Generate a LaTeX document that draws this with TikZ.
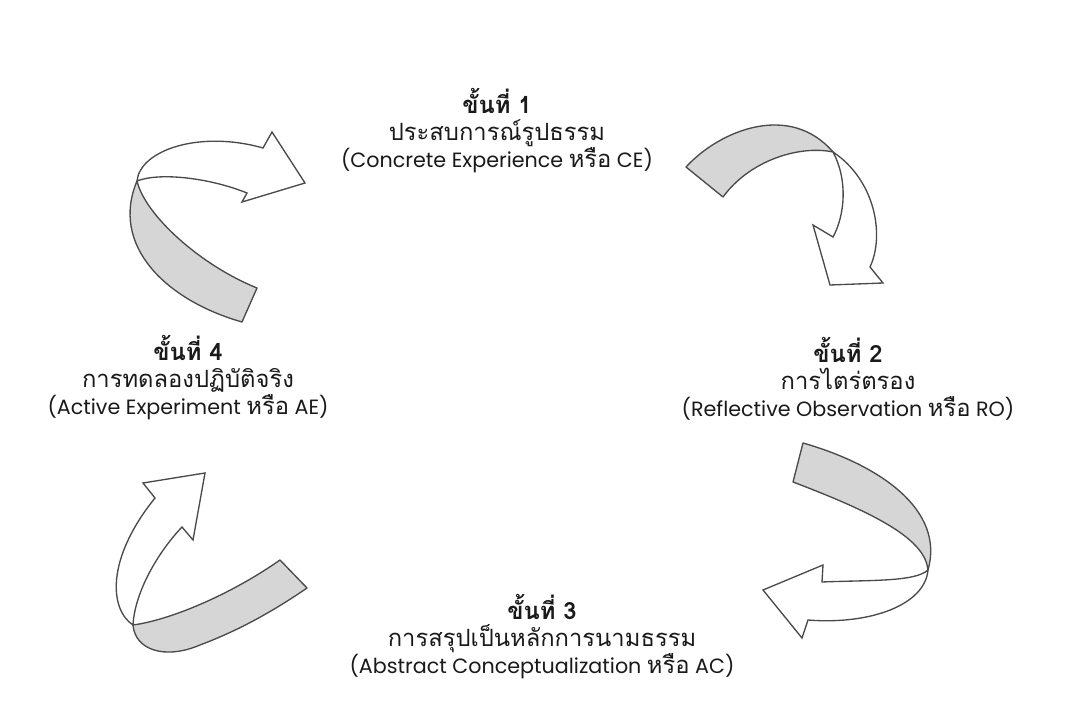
\documentclass[tikz,border=0pt]{standalone}
\usepackage{fontspec}
\setmainfont{Poppins}
\newfontfamily\thai[Script=Thai,Scale=1.15]{Loma}
\definecolor{band}{HTML}{D6D6D6}
\definecolor{edge}{HTML}{4A4A4A}
\definecolor{ink}{HTML}{1A1A1A}
\tikzset{
  bandfill/.style={fill=band,draw=edge,line width=1pt,line join=round},
  arrowfill/.style={fill=white,draw=edge,line width=1pt,line join=miter},
  stage/.style={align=center,text=ink,font=\fontsize{15.5}{20.25}\selectfont},
}
\begin{document}
\begin{tikzpicture}[x=0.75pt,y=-0.75pt]
\useasboundingbox[fill=white] (0,0) rectangle (1068,702);

% ---- arrow top-right (CE -> RO)
\coordinate (t1) at (833,152);
\path[bandfill] (686,167) .. controls (720,130) and (790,102) .. (t1)
  .. controls (800,145) and (750,160) .. (723,197) -- cycle;
\path[arrowfill] (t1) .. controls (848,180) and (845,215) .. (833,237)
  -- (813,225) -- (830,285) -- (883,283) -- (870,267)
  .. controls (885,235) and (875,180) .. (t1) -- cycle;

% ---- arrow bottom-right (RO -> AC)
\coordinate (t2) at (928,570);
\path[bandfill] (803,443) .. controls (880,465) and (945,510) .. (t2)
  .. controls (925,540) and (880,515) .. (793,482) -- cycle;
\path[arrowfill] (t2) .. controls (915,582) and (870,580) .. (822,582)
  -- (823,565) -- (763,590) -- (802,638) -- (808,620)
  .. controls (870,625) and (925,605) .. (t2) -- cycle;

% ---- arrow bottom-left (AC -> AE)
\coordinate (t3) at (133,625);
\path[bandfill] (280,560) .. controls (230,595) and (170,620) .. (t3)
  .. controls (135,650) and (165,660) .. (200,645)
  .. controls (240,630) and (275,610) .. (307,588) -- cycle;
\path[arrowfill] (t3) .. controls (110,610) and (105,560) .. (155,498)
  -- (143,483) -- (205,473) -- (193,540) -- (182,527)
  .. controls (160,550) and (135,590) .. (t3) -- cycle;

% ---- arrow top-left (AE -> CE)
\coordinate (t4) at (137,181);
\path[bandfill] (242,322) .. controls (165,300) and (110,245) .. (t4)
  .. controls (145,215) and (200,265) .. (257,288) -- cycle;
\path[arrowfill] (t4) .. controls (140,150) and (200,130) .. (263,148)
  -- (272,132) -- (305,183) -- (242,202) -- (247,193)
  .. controls (210,178) and (160,172) .. (t4) -- cycle;

% ---- stages
\node[stage] (ce) at (497,131) {{\thai\bfseries ขั้นที่ 1}\\{\thai ประสบการณ์รูปธรรม}\\(Concrete Experience {\thai หรือ} CE)};
\node[stage] (ro) at (848,379) {{\thai\bfseries ขั้นที่ 2}\\{\thai การไตร่ตรอง}\\(Reflective Observation {\thai หรือ} RO)};
\node[stage] (ac) at (542,637) {{\thai\bfseries ขั้นที่ 3}\\{\thai การสรุปเป็นหลักการนามธรรม}\\(Abstract Conceptualization {\thai หรือ} AC)};
\node[stage] (ae) at (188,378) {{\thai\bfseries ขั้นที่ 4}\\{\thai การทดลองปฏิบัติจริง}\\(Active Experiment {\thai หรือ} AE)};
\end{tikzpicture}
\end{document}
